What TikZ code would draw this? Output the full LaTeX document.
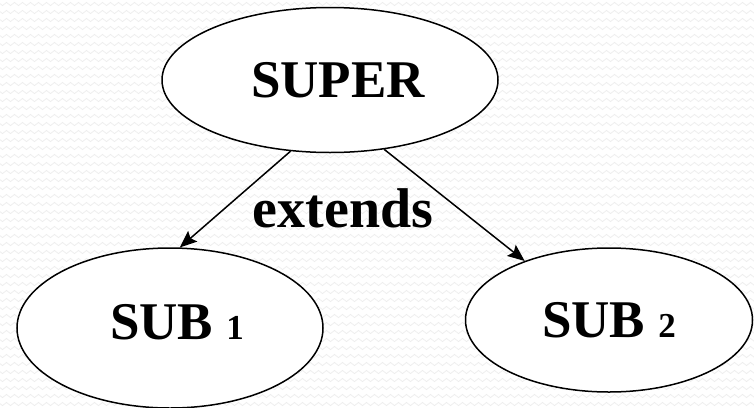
\documentclass[tikz,border=0pt]{standalone}
\usepackage{fontspec}
\setmainfont{Liberation Serif}
\usetikzlibrary{shapes.geometric, arrows.meta, decorations.pathmorphing}
\newcommand{\osfdigit}[1]{{\fontsize{35}{40}\selectfont #1}}
\tikzset{
  bubble/.style={ellipse, draw=black, line width=1.5pt, fill=white, inner sep=0pt,
    font=\fontsize{53}{60}\selectfont\bfseries},
  subtext/.style={text depth=12pt},
  relarrow/.style={line width=1.5pt, -{Stealth[length=17pt, width=14pt, inset=3pt]}},
  bgwave/.style={black!7, line width=0.7pt, decorate,
    decoration={snake, segment length=8pt, amplitude=1.6pt}},
  reltext/.style={font=\fontsize{56}{62}\selectfont\bfseries, inner sep=0pt}
}
\begin{document}
\begin{tikzpicture}[x=1pt, y=-1pt]
\useasboundingbox (0,0) rectangle (754,407);
\fill[white] (0,0) rectangle (754,407);
\foreach \r in {4,12,...,404} {
  \draw[bgwave] (-4,\r) -- (760,\r);
}
\node[bubble, minimum width=336pt, minimum height=145pt] (super) at (330,80) {\hspace*{16pt}SUPER};
\node[bubble, subtext, minimum width=306pt, minimum height=160pt] (sub1) at (170,328) {\hspace*{14pt}SUB \osfdigit{1}};
\node[bubble, minimum width=287pt, minimum height=144pt] (sub2) at (609,320) {SUB \osfdigit{2}};
\draw[relarrow] (super.241) -- (sub1.83);
\draw[relarrow] (super.308) -- (sub2.145);
\node[reltext, anchor=base] (ext) at (343,227) {extends};
\end{tikzpicture}
\end{document}
